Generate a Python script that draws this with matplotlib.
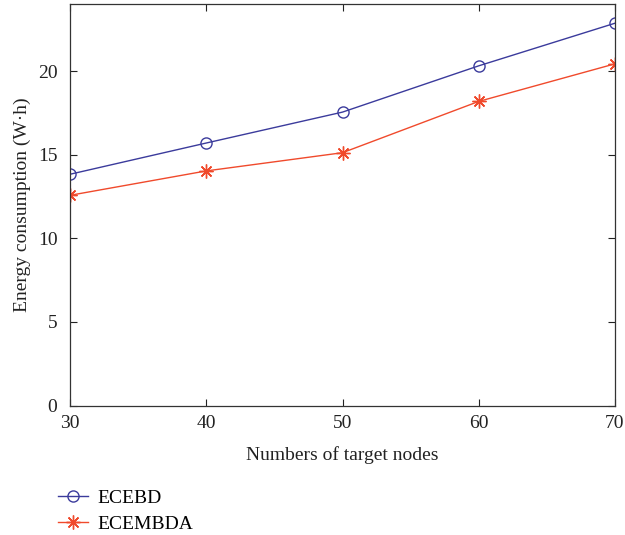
import matplotlib
matplotlib.use("Agg")
import matplotlib.pyplot as plt

plt.rcParams['font.family'] = ['Liberation Serif', 'DejaVu Serif']

nodes = [30, 40, 50, 60, 70]
ecebd = [13.84, 15.71, 17.56, 20.33, 22.88]
ecembda = [12.58, 14.04, 15.13, 18.2, 20.45]
labels = ["ECEBD", "ECEMBDA"]

fig = plt.figure(figsize=(6.25, 5.35), dpi=100)
ax = fig.add_axes([0.112, 0.242, 0.872, 0.7496])

ax.plot(nodes, ecebd, color="#3b3b9c", marker="o", markersize=8,
        markerfacecolor="none", markeredgewidth=1.0, linewidth=1.0, label=labels[0])
ax.plot(nodes, ecembda, color="#f04a2c", marker=(8, 2, 0), markersize=10,
        markeredgewidth=1.0, linewidth=1.0, label=labels[1])

ax.set_xlim(30, 70)
ax.set_ylim(0, 24)
ax.set_xticks([30, 40, 50, 60, 70])
ax.set_yticks([0, 5, 10, 15, 20])
ax.tick_params(direction="in", top=True, right=True, labelsize=14, length=5, colors="#222222")
ax.tick_params(axis="x", pad=7)
ax.tick_params(axis="y", pad=9)
for s in ax.spines.values():
    s.set_color("#333333")
    s.set_linewidth(0.9)

ax.set_xlabel("Numbers of target nodes", fontsize=14, color="#222222", labelpad=10)
ax.set_ylabel("Energy consumption (W·h)", fontsize=14, color="#222222", labelpad=5)

ax.legend(loc="upper left", bbox_to_anchor=(-0.055, -0.165), frameon=False,
          fontsize=14, handlelength=1.55, handletextpad=0.5, labelspacing=0.42)

fig.savefig("out.png", dpi=100)
